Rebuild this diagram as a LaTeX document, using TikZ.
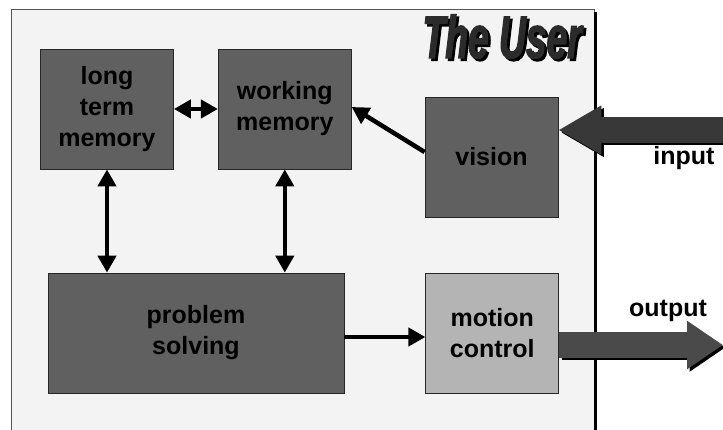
\documentclass[tikz,border=0pt]{standalone}
\usepackage{fontspec}
\setsansfont{Liberation Sans}
\newfontfamily\titlefont[FakeStretch=0.62,FakeBold=2]{Liberation Sans Bold Italic}
\usepackage{xcolor}
\usetikzlibrary{arrows.meta, positioning}
\definecolor{PanelFill}{HTML}{F3F3F3}
\definecolor{PanelEdge}{HTML}{555555}
\definecolor{UnitFill}{HTML}{606060}
\definecolor{MotorFill}{HTML}{B4B4B4}
\definecolor{InInk}{HTML}{383838}
\definecolor{OutInk}{HTML}{4A4A4A}
\definecolor{TitleInk}{HTML}{2B2B2B}

\begin{document}
\begin{tikzpicture}[
    x=1pt, y=-1pt,
    font=\sffamily\bfseries\fontsize{25}{31}\selectfont,
    unit/.style={
      draw=black!85,
      line width=0.8pt,
      fill=UnitFill,
      minimum width=133pt,
      minimum height=120pt,
      inner sep=0pt,
      align=center,
      text=black,
    },
    link/.style={
      line width=4.5pt,
      -{Triangle[length=17pt,width=18pt]},
    },
    duplex/.style={
      line width=4.5pt,
      {Triangle[length=17pt,width=18pt]}-{Triangle[length=17pt,width=18pt]},
    },
    flowin/.style={
      line width=26pt,
      -{Triangle[length=43pt,width=46pt]},
    },
    flowout/.style={
      line width=25pt,
      -{Triangle[length=36pt,width=46pt]},
    },
  ]
    \useasboundingbox (0,0) rectangle (723,430);
    \clip (0,0) rectangle (723,430);
    \fill[white] (0,0) rectangle (723,430);

    % the user panel, shadow edge on the right
    \draw[fill=PanelFill, draw=PanelEdge, line width=0.8pt] (11,9) rectangle (594,445);
    \draw[black, line width=3.5pt] (595.5,12) -- (595.5,445);

    % title
    \node[font=\titlefont\fontsize{60}{60}\selectfont, text=black, anchor=base west]
      at (421.5,60.5) {The User};
    \node[font=\titlefont\fontsize{60}{60}\selectfont, text=TitleInk, anchor=base west]
      (title) at (419,58) {The User};

    \node[unit] (ltm) at (107,109) {long\\term\\memory};
    \node[unit, right=44pt of ltm] (wm) {working\\memory};
    \node[unit] (vision) at (491.5,157) {vision};
    \node[unit, minimum width=296pt] (ps) at (196,333) {problem\\solving};
    \node[unit, fill=MotorFill, right=81pt of ps] (mc) {motion\\control};

    \draw[duplex] (ltm.east) -- (wm.west);
    \draw[duplex] (ltm.south) -- (ltm.south |- ps.north);
    \draw[duplex] (wm.south) -- (wm.south |- ps.north);
    \draw[link] ([yshift=5pt]vision.west) -- ([yshift=2pt]wm.east);
    \draw[link] ([yshift=-4pt]ps.east) -- ([yshift=-4pt]mc.west);

    % input and output flows
    \coordinate (inR) at (740,130);
    \coordinate (outR) at (723,345);
    \begin{scope}[transform canvas={shift={(2.5pt,-2.5pt)}}]
      \draw[flowin, black] (inR) -- (inR -| vision.east);
      \draw[flowout, black] (mc.east |- outR) -- (outR);
    \end{scope}
    \draw[flowin, InInk] (inR) -- (inR -| vision.east);
    \draw[flowout, OutInk] (mc.east |- outR) -- (outR);

    \node[anchor=base] (inlbl) at (684,165) {input};
    \node[anchor=base] (outlbl) at (668,317) {output};
  \end{tikzpicture}
\end{document}
